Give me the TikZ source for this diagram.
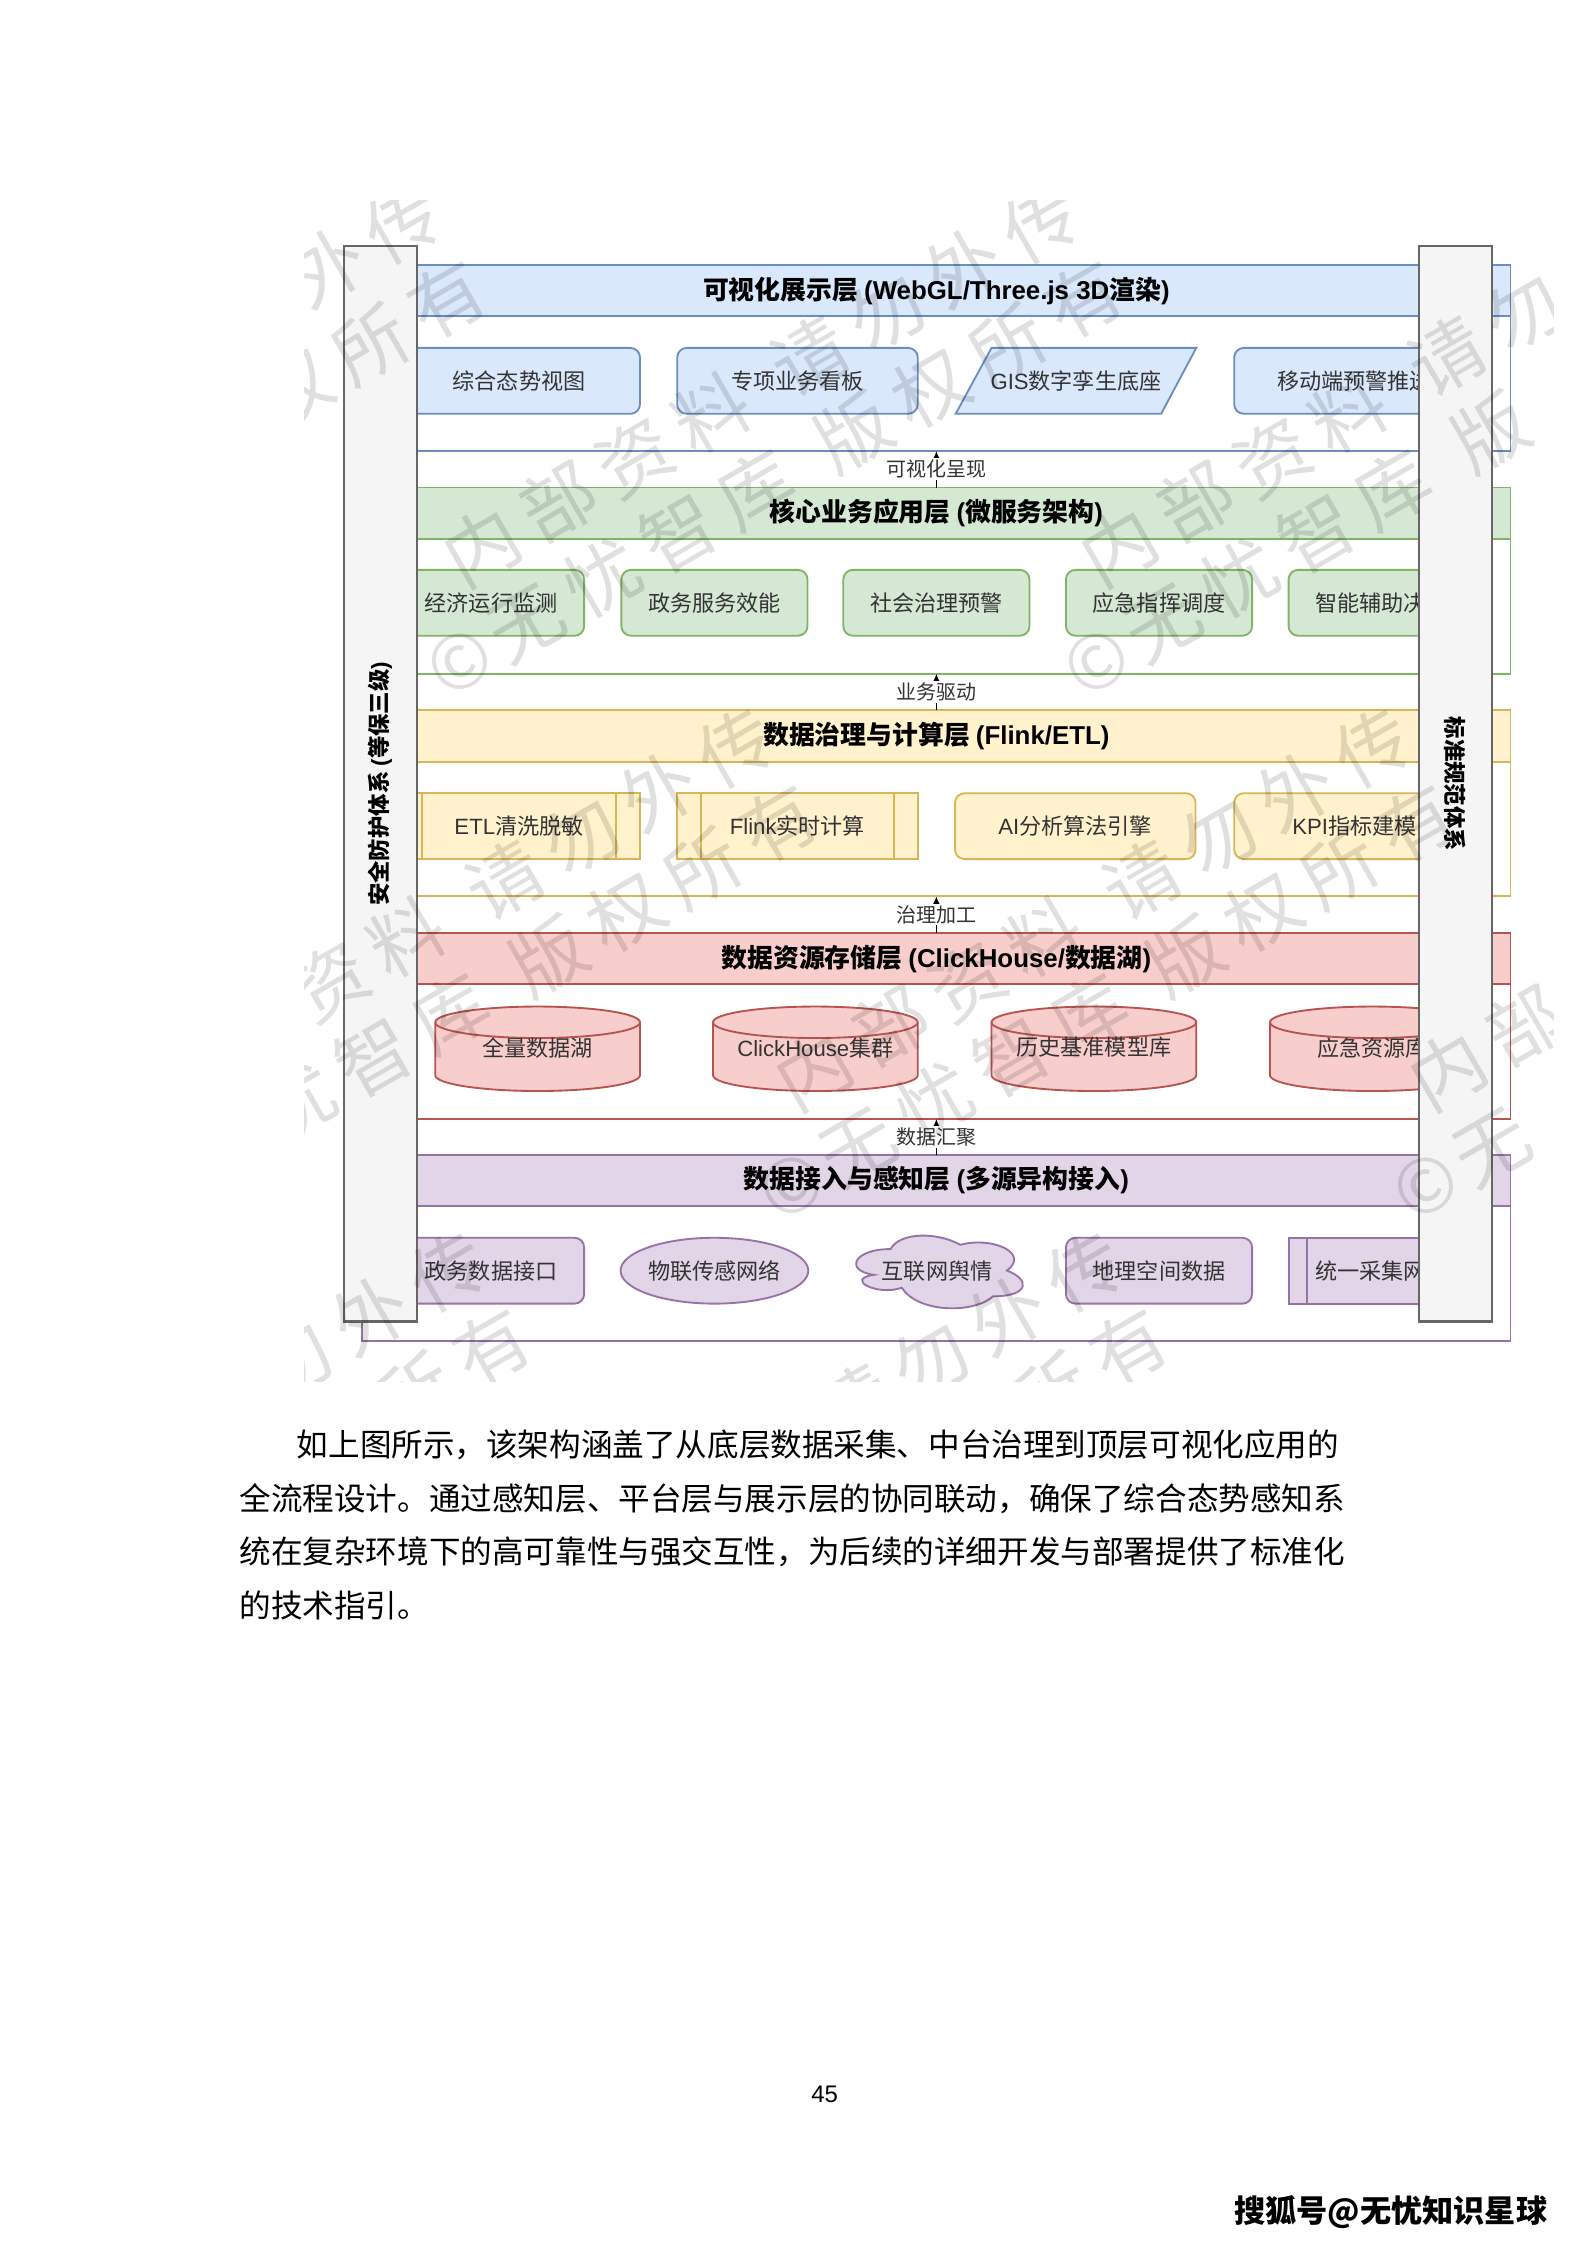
\documentclass[tikz,border=0pt]{standalone}
\usepackage{fontspec}
\setmainfont{Liberation Sans}
\newfontfamily\cjk{Noto Sans CJK SC}
\newfontfamily\lat{Liberation Sans}
\usetikzlibrary{shapes.geometric,arrows.meta,calc}
\newdimen\pxu \pxu=0.53726pt
\newcommand\La[1]{{\lat #1}}
\def\lsp#1{\ifx#1\relax\else#1\kern5.3pt\expandafter\lsp\fi}
\definecolor{bF}{HTML}{DAE8FC}\definecolor{bS}{HTML}{6C8EBF}
\definecolor{gF}{HTML}{D5E8D4}\definecolor{gS}{HTML}{82B366}
\definecolor{yF}{HTML}{FFF2CC}\definecolor{yS}{HTML}{D6B656}
\definecolor{rF}{HTML}{F8CECC}\definecolor{rS}{HTML}{B85450}
\definecolor{pF}{HTML}{E1D5E7}\definecolor{pS}{HTML}{9673A6}
\definecolor{sF}{HTML}{F5F5F5}\definecolor{sS}{HTML}{666666}
\definecolor{txt}{HTML}{333333}
\tikzset{
 lw/.style={line width=0.7pt},
 cont/.style={draw=#1, fill=white, line width=0.7pt, minimum width=802*\pxu, minimum height=130*\pxu, inner sep=0pt, outer sep=0pt},
 hdr/.style 2 args={draw=#1, fill=#2, line width=0.7pt, minimum width=802*\pxu, minimum height=36*\pxu, inner sep=0pt, outer sep=0pt, font=\cjk\bfseries\fontsize{9.7}{12}\selectfont, text=black},
 boxt/.style={font=\cjk\fontsize{8.3}{10}\selectfont, text=txt, inner sep=0pt, outer sep=0pt},
 rbox/.style 2 args={boxt, draw=#1, fill=#2, line width=0.7pt, rounded corners=3.6pt, minimum height=46*\pxu},
 sqbox/.style 2 args={boxt, draw=#1, fill=#2, line width=0.7pt, minimum height=46*\pxu},
 ebox/.style 2 args={boxt, ellipse, draw=#1, fill=#2, line width=0.7pt, minimum height=46*\pxu},
 flow/.style={line width=0.5pt, black, -{Latex[length=3pt,width=2.6pt]}},
 flowlab/.style={font=\cjk\fontsize{7.5}{9}\selectfont, text=txt, fill=white, inner sep=0.6pt},
 side/.style={draw=sS, fill=sF, line width=0.8pt, minimum width=51*\pxu, minimum height=751*\pxu, inner sep=0pt},
 sidet/.style={font=\cjk\bfseries\fontsize{8.4}{10}\selectfont, text=black, inner sep=0pt},
 wm/.style={font=\cjk\fontsize{28}{33}\selectfont, text=black, text opacity=0.12, inner sep=0pt, outer sep=0pt, text height=23pt, text depth=10pt},
 para/.style={font=\cjk\fontsize{11.85}{14}\selectfont, text=black, inner sep=0pt, anchor=west},
}
\newcommand\mycyl[3]{% name, center x, text
 \fill[rF] (#2-71.5,714) -- (#2-71.5,751) arc[start angle=180,end angle=0,x radius=71.5,y radius=11] -- (#2+71.5,714) arc[start angle=0,end angle=-180,x radius=71.5,y radius=11] -- cycle;
 \draw[rS,lw] (#2-71.5,714) -- (#2-71.5,751) arc[start angle=180,end angle=0,x radius=71.5,y radius=11] -- (#2+71.5,714) arc[start angle=0,end angle=-180,x radius=71.5,y radius=11] -- cycle;
 \draw[rS,lw] (#2-71.5,714) arc[start angle=180,end angle=0,x radius=71.5,y radius=11];
 \node[boxt] (#1) at (#2,731.7) {#3};}
% one watermark text piece: name, origin x, origin y, along, across, anchor, text
\newcommand\wmn[7]{\begin{scope}[shift={(#2,#3)}, rotate=30, transform shape]\node[wm, anchor=#6] (#1) at (#4,#5) {#7};\end{scope}}
\begin{document}
\begin{tikzpicture}[x=0.53726pt, y=-0.53726pt]
\fill[white] (0,0) rectangle (1108,1568);
\useasboundingbox (0,0) rectangle (1108,1568);

% ---- layer containers and headers
\node[cont=bS] (c1) at (654,250) {};
\node[hdr={bS}{bF}] (h1) at (654,203) {可视化展示层 \La{(WebGL/Three.js 3D}渲染\La{)}};
\node[cont=gS] (c2) at (654,405.5) {};
\node[hdr={gS}{gF}] (h2) at (654,358.5) {核心业务应用层 \La{(}微服务架构\La{)}};
\node[cont=yS] (c3) at (654,561) {};
\node[hdr={yS}{yF}] (h3) at (654,514) {数据治理与计算层 \La{(Flink/ETL)}};
\node[cont=rS] (c4) at (654,716.5) {};
\node[hdr={rS}{rF}] (h4) at (654,669.5) {数据资源存储层 \La{(ClickHouse/}数据湖\La{)}};
\node[cont=pS] (c5) at (654,871.5) {};
\node[hdr={pS}{pF}] (h5) at (654,824.5) {数据接入与感知层 \La{(}多源异构接入\La{)}};

% ---- layer 1
\node[rbox={bS}{bF}, minimum width=169*\pxu] (b11) at (362.5,266) {综合态势视图};
\node[rbox={bS}{bF}, minimum width=168*\pxu] (b12) at (557,266) {专项业务看板};
\filldraw[draw=bS, fill=bF, lw] (692.5,243) -- (835.5,243) -- (811,289) -- (667.5,289) -- cycle;
\node[boxt] (b13) at (751.5,266) {\La{GIS}数字孪生底座};
\node[rbox={bS}{bF}, minimum width=168*\pxu] (b14) at (946,266) {移动端预警推送};

% ---- layer 2
\node[rbox={gS}{gF}, minimum width=130*\pxu] (b21) at (343,421) {经济运行监测};
\node[rbox={gS}{gF}, minimum width=130*\pxu] (b22) at (499,421) {政务服务效能};
\node[rbox={gS}{gF}, minimum width=130*\pxu] (b23) at (654,421) {社会治理预警};
\node[rbox={gS}{gF}, minimum width=130*\pxu] (b24) at (809.5,421) {应急指挥调度};
\node[rbox={gS}{gF}, minimum width=130*\pxu] (b25) at (965,421) {智能辅助决策};

% ---- layer 3
\node[sqbox={yS}{yF}, minimum width=169*\pxu] (b31) at (362.5,577) {\La{ETL}清洗脱敏};
\draw[yS,lw] ($(b31.north west)+(16.9,0)$) -- ($(b31.south west)+(16.9,0)$);
\draw[yS,lw] ($(b31.north east)+(-16.9,0)$) -- ($(b31.south east)+(-16.9,0)$);
\node[sqbox={yS}{yF}, minimum width=168*\pxu] (b32) at (557,577) {\La{Flink}实时计算};
\draw[yS,lw] ($(b32.north west)+(16.8,0)$) -- ($(b32.south west)+(16.8,0)$);
\draw[yS,lw] ($(b32.north east)+(-16.8,0)$) -- ($(b32.south east)+(-16.8,0)$);
\node[rbox={yS}{yF}, minimum width=168*\pxu] (b33) at (751,577) {\La{AI}分析算法引擎};
\node[rbox={yS}{yF}, minimum width=168*\pxu] (b34) at (946,577) {\La{KPI}指标建模};

% ---- layer 4
\mycyl{d1}{375.5}{全量数据湖}
\mycyl{d2}{569.5}{\La{ClickHouse}集群}
\mycyl{d3}{764}{历史基准模型库}
\mycyl{d4}{958.5}{应急资源库}

% ---- layer 5
\node[rbox={pS}{pF}, minimum width=130*\pxu] (b51) at (343,887.5) {政务数据接口};
\node[ebox={pS}{pF}, minimum width=130*\pxu] (b52) at (499,887.5) {物联传感网络};
\begin{scope}[shift={(589.5,857.4)}, x=69.844pt, y=-32.236pt]
\filldraw[draw=pS, fill=pF, line width=0.7pt] (0.25,0.25) .. controls (0.05,0.25) and (0,0.5) .. (0.16,0.55) .. controls (0,0.6) and (0.18,0.8) .. (0.31,0.7) .. controls (0.4,1) and (0.7,1) .. (0.8,0.8) .. controls (1,0.8) and (1,0.6) .. (0.875,0.5) .. controls (1,0.3) and (0.8,0.1) .. (0.625,0.2) .. controls (0.5,0.05) and (0.3,0.05) .. (0.25,0.25) -- cycle;
\end{scope}
\node[boxt] (b53) at (654.5,887.5) {互联网舆情};
\node[rbox={pS}{pF}, minimum width=130*\pxu] (b54) at (809.5,887.5) {地理空间数据};
\node[sqbox={pS}{pF}, minimum width=130*\pxu] (b55) at (965,887.5) {统一采集网关};
\draw[pS,lw] ($(b55.north west)+(13,0)$) -- ($(b55.south west)+(13,0)$);
\draw[pS,lw] ($(b55.north east)+(-13,0)$) -- ($(b55.south east)+(-13,0)$);

% ---- flows between layers
\draw[flow] (h2.north) -- (c1.south) node[midway, flowlab] (f1) {可视化呈现};
\draw[flow] (h3.north) -- (c2.south) node[midway, flowlab] (f2) {业务驱动};
\draw[flow] (h4.north) -- (c3.south) node[midway, flowlab] (f3) {治理加工};
\draw[flow] (h5.north) -- (c4.south) node[midway, flowlab] (f4) {数据汇聚};

% ---- side panels
\node[side] (sl) at (265.5,547.5) {};
\node[sidet, rotate=90] (slt) at (sl.center) {安全防护体系 \La{(}等保三级\La{)}};
\node[side] (sr) at (1016.5,547.5) {};
\node[sidet, rotate=-90] (srt) at (sr.center) {标准规范体系};

% ---- watermark (only the pieces that fall inside the figure)
\begin{scope}
\clip (213,140) rectangle (1085,965);
\wmn{wa1}{-105}{388}{362.75}{0}{west}{\lsp 外传\relax}
\wmn{wa2}{-105}{388}{300.75}{61.4}{west}{\lsp 权所有\relax}
\wmn{wb1}{340}{388}{-26}{0}{west}{\lsp 内部资料\relax}
\wmn{wb2}{340}{388}{238.75}{0}{west}{\lsp 请勿外传\relax}
\wmn{wb3}{340}{388}{222}{61.4}{east}{©\kern3pt\lsp 无忧智库\relax}
\wmn{wb4}{340}{388}{238.75}{61.4}{west}{\lsp 版权所有\relax}
\wmn{wc1}{785}{388}{-26}{0}{west}{\lsp 内部资料\relax}
\wmn{wc2}{785}{388}{238.75}{0}{west}{请\kern5.3pt勿}
\wmn{wc3}{785}{388}{222}{61.4}{east}{©\kern3pt\lsp 无忧智库\relax}
\wmn{wc4}{785}{388}{238.75}{61.4}{west}{版}
\wmn{wd1}{127}{754}{98}{0}{west}{\lsp 资料\relax}
\wmn{wd2}{127}{754}{238.75}{0}{west}{\lsp 请勿外传\relax}
\wmn{wd3}{127}{754}{222}{61.4}{east}{\lsp 忧智库\relax}
\wmn{wd4}{127}{754}{238.75}{61.4}{west}{\lsp 版权所有\relax}
\wmn{we1}{572}{754}{-26}{0}{west}{\lsp 内部资料\relax}
\wmn{we2}{572}{754}{238.75}{0}{west}{\lsp 请勿外传\relax}
\wmn{we3}{572}{754}{222}{61.4}{east}{©\kern3pt\lsp 无忧智库\relax}
\wmn{we4}{572}{754}{238.75}{61.4}{west}{\lsp 版权所有\relax}
\wmn{wf1}{1015}{754}{-26}{0}{west}{内\kern5.3pt部}
\wmn{wf2}{1015}{754}{26}{61.4}{east}{©\kern3pt无}
\wmn{wg1}{-74}{1120}{300.75}{0}{west}{\lsp 勿外传\relax}
\wmn{wg2}{-74}{1120}{362.75}{61.4}{west}{\lsp 所有\relax}
\wmn{wh1}{371}{1120}{238.75}{0}{west}{\lsp 请勿外传\relax}
\wmn{wh2}{371}{1120}{362.75}{61.4}{west}{\lsp 所有\relax}
\end{scope}

% ---- page text
\node[para] (p1) at (207,1009) {如上图所示，该架构涵盖了从底层数据采集、中台治理到顶层可视化应用的};
\node[para] (p2) at (167,1047) {全流程设计。通过感知层、平台层与展示层的协同联动，确保了综合态势感知系};
\node[para] (p3) at (167,1084) {统在复杂环境下的高可靠性与强交互性，为后续的详细开发与部署提供了标准化};
\node[para] (p4) at (167,1121) {的技术指引。};
\node[font=\lat\fontsize{9}{11}\selectfont, inner sep=0pt] (pg) at (576,1463) {45};
\node[font=\cjk\bfseries\fontsize{11.7}{14}\selectfont, anchor=east, inner sep=0pt] (sh) at (1081,1545) {搜狐号@无忧知识星球};
\end{tikzpicture}
\end{document}
